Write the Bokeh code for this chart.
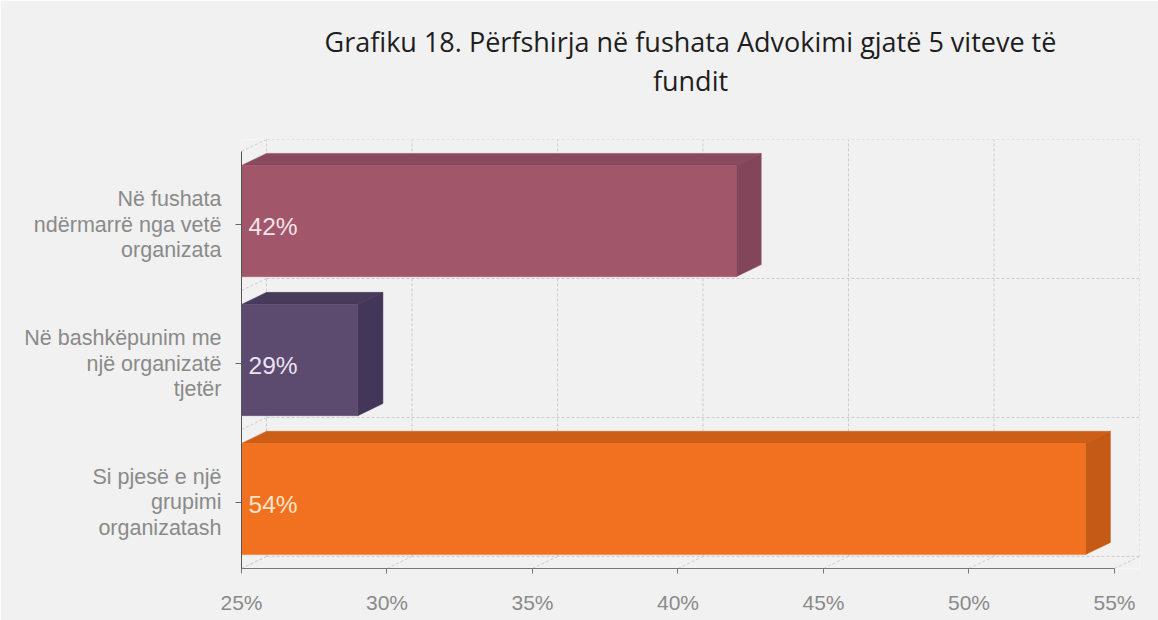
from bokeh.plotting import figure
from bokeh.models import Range1d, FixedTicker, PrintfTickFormatter, Title
from bokeh.core.properties import value
from bokeh.embed import file_html
from bokeh.resources import INLINE

# ---- data ----
categories = [
    "Në fushata\nndërmarrë nga vetë\norganizata",
    "Në bashkëpunim me\nnjë organizatë\ntjetër",
    "Si pjesë e një\ngrupimi\norganizatash",
]
values = [42, 29, 54]
value_labels = ["42%", "29%", "54%"]
x_ticks = [25, 30, 35, 40, 45, 50, 55]
title_lines = ["Grafiku 18. Përfshirja në fushata Advokimi gjatë 5 viteve të", "fundit"]

# ---- style ----
front_colors = ["#a1566a", "#5c4a6f", "#f27121"]
top_colors = ["#884a5c", "#473a5b", "#cc5e17"]
side_colors = ["#82455a", "#433658", "#c45a15"]
label_colors = ["#f6e3ea", "#ebe4f3", "#fde3c8"]
BG = "#f1f1f1"
GRID = "#cccccc"
DX = 0.86     # depth offset in x data units
DY = 0.087    # depth offset in y data units
BAR_H = 0.8
TICK_SHIFT = 0.025
X0, X1 = x_ticks[0], x_ticks[-1]
n = len(categories)
centers = [n - 0.5 - i for i in range(n)]

p = figure(width=1158, height=620, output_backend="svg", toolbar_location=None,
           title=None,
           x_range=Range1d(X0, X1 + DX), y_range=Range1d(0, n + DY),
           min_border_left=241, min_border_right=19, min_border_top=139,
           min_border_bottom=52)
p.background_fill_color = BG
p.border_fill_color = BG
p.outline_line_color = None
p.xgrid.grid_line_color = None
p.ygrid.grid_line_color = None

# title: spacer, then the two centred lines (inner first)
p.add_layout(Title(text=" ", text_font_size="10px", standoff=28), "above")
for line in [title_lines[1], title_lines[0]]:
    p.add_layout(Title(text=line, align="center", text_font="Open Sans",
                       text_font_size="27px", text_font_style="normal",
                       text_color="#1e1e1e", standoff=0), "above")

# ---- back wall / floor / left wall grid (computed from ticks & categories) ----
gx0, gy0, gx1, gy1 = [], [], [], []
for t in x_ticks:
    gx0.append(t + DX); gy0.append(DY); gx1.append(t + DX); gy1.append(n + DY)
    gx0.append(t); gy0.append(0); gx1.append(t + DX); gy1.append(DY)
for k in range(n + 1):
    gx0.append(X0 + DX); gy0.append(k + DY); gx1.append(X1 + DX); gy1.append(k + DY)
    gx0.append(X0); gy0.append(k); gx1.append(X0 + DX); gy1.append(k + DY)
p.segment(x0=gx0, y0=gy0, x1=gx1, y1=gy1, line_color=GRID, line_width=1,
          line_dash="3 2")

# ---- 3D bars ----
for i, (v, c) in enumerate(zip(values, centers)):
    b, t = c - BAR_H / 2, c + BAR_H / 2
    p.patch(x=[X0, v, v + DX, X0 + DX], y=[t, t, t + DY, t + DY],
            fill_color=top_colors[i], line_color=top_colors[i], line_width=0.5)
    p.patch(x=[v, v + DX, v + DX, v], y=[b, b + DY, t + DY, t],
            fill_color=side_colors[i], line_color=side_colors[i], line_width=0.5)
    p.quad(left=[X0], right=[v], bottom=[b], top=[t],
           fill_color=front_colors[i], line_color=front_colors[i], line_width=0.5)
    p.text(x=[X0], y=[c], text=[value_labels[i]], x_offset=7, y_offset=5,
           text_color=label_colors[i], text_font=value("Liberation Sans"),
           text_font_size="24.5px", text_baseline="middle", text_align="left")

# ---- axes ----
xa = p.xaxis[0]
xa.ticker = FixedTicker(ticks=x_ticks)
xa.formatter = PrintfTickFormatter(format="%d%%")
xa.bounds = (X0, X1)
xa.axis_line_color = "#777777"
xa.major_tick_line_color = "#777777"
xa.major_tick_out = 5
xa.major_tick_in = 0
xa.minor_tick_line_color = None
xa.major_label_standoff = 17
xa.major_label_text_font = "Liberation Sans"
xa.major_label_text_font_size = "21px"
xa.major_label_text_color = "#8a8a8a"

tick_pos = [c - TICK_SHIFT for c in centers]
ya = p.yaxis[0]
ya.ticker = FixedTicker(ticks=tick_pos)
ya.major_label_overrides = {tp: lab for tp, lab in zip(tick_pos, categories)}
ya.bounds = (0, n)
ya.axis_line_color = "#555555"
ya.major_tick_line_color = "#666666"
ya.major_tick_out = 6
ya.major_tick_in = 0
ya.minor_tick_line_color = None
ya.major_label_standoff = 14
ya.major_label_text_font = "Liberation Sans"
ya.major_label_text_font_size = "21.5px"
ya.major_label_text_color = "#8a8a8a"
ya.major_label_text_line_height = 1.06

open("out.html", "w").write(file_html(p, INLINE))
